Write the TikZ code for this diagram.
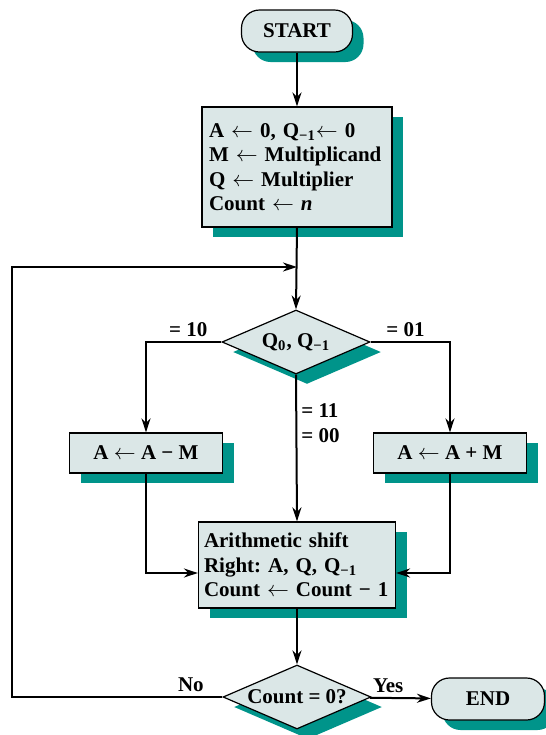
\documentclass[tikz,border=0pt]{standalone}
\usepackage{fontspec}
\setmainfont{Liberation Serif}
\usepackage{tikz}
\usetikzlibrary{
  arrows.meta,
  positioning,
  shapes.geometric,
  shadows,
  calc
}
\definecolor{boxfill}{RGB}{219,231,231}
\definecolor{shadowteal}{RGB}{0,148,138}
\frenchspacing

\begin{document}
\begin{tikzpicture}[
  x=0.5pt, y=-0.5pt,
  font=\fontsize{10.5}{12.2}\selectfont\bfseries,
  tealshadow/.style={drop shadow={shadow xshift=5.5pt, shadow yshift=-5pt,
                     fill=shadowteal, opacity=1}},
  block/.style={draw, line width=0.6pt, fill=boxfill, tealshadow,
                minimum height=#1, inner sep=4pt},
  block/.default=20pt,
  terminal/.style={draw, line width=0.6pt, fill=boxfill, tealshadow,
                   rounded corners=9pt, minimum height=21pt},
  decision/.style={diamond, draw, line width=0.6pt, fill=boxfill, tealshadow,
                   aspect=2.3, inner sep=0.5pt, minimum width=74pt, minimum height=32pt},
  arrow/.style={-{Stealth[length=7pt, width=4.5pt]}, line width=1pt},
  lbl/.style={inner sep=2pt},
]
  \useasboundingbox (0,0) rectangle (546,735);

  \node[terminal, minimum width=55.5pt] (start) at (297,31) {START};
  \node[block=60pt, minimum width=95pt, text width=88pt, align=left, inner sep=3.5pt]
    (init) at (297,167)
    {A $\leftarrow$ 0, Q\textsubscript{−1}$\leftarrow$ 0\\
     M $\leftarrow$ Multiplicand\\
     Q $\leftarrow$ Multiplier\\
     Count $\leftarrow$ \textit{n}};
  \node[decision] (test) at (296,342) {Q\textsubscript{0}, Q\textsubscript{−1}};
  \node[block, minimum width=76.5pt] (sub) at (146,453) {A $\leftarrow$ A − M};
  \node[block, minimum width=76.5pt] (add) at (450,453) {A $\leftarrow$ A + M};
  \node[block=43pt, minimum width=98.5pt, text width=93pt, align=left,
        inner sep=2.75pt] (shift) at (297,565)
    {Arithmetic shift\\
     Right: A, Q, Q\textsubscript{−1}\\
     Count $\leftarrow$ Count − 1};
  \node[decision] (count) at (297,697) {Count = 0?};
  \node[terminal, minimum width=56.5pt] (end) at (488,699) {END};

  \coordinate (join) at (297,267);

  \draw[arrow] (start) -- (init);
  \draw[arrow] (init.south) -- (test.north);
  \draw[arrow] (test.west) -| (sub.north) node[lbl, pos=0.22, above] {= 10};
  \draw[arrow] (test.east) -| (add.north) node[lbl, pos=0.22, above] {= 01};
  \draw[arrow] (test.south) -- (shift.north)
    node[lbl, pos=0.33, right, align=left] {= 11\\= 00};
  \draw[arrow] (sub.south) |- ([yshift=-4pt]shift.west);
  \draw[arrow] (add.south) |- ([yshift=-4pt]shift.east);
  \draw[arrow] (shift) -- (count);
  \draw[arrow] (count) -- (end) node[lbl, pos=0.3, above] {Yes};

  % loop back to the test
  \draw[arrow] (count.west) -- ++(-210,0) node[lbl, pos=0.15, above] {No} |- (join);
\end{tikzpicture}
\end{document}
